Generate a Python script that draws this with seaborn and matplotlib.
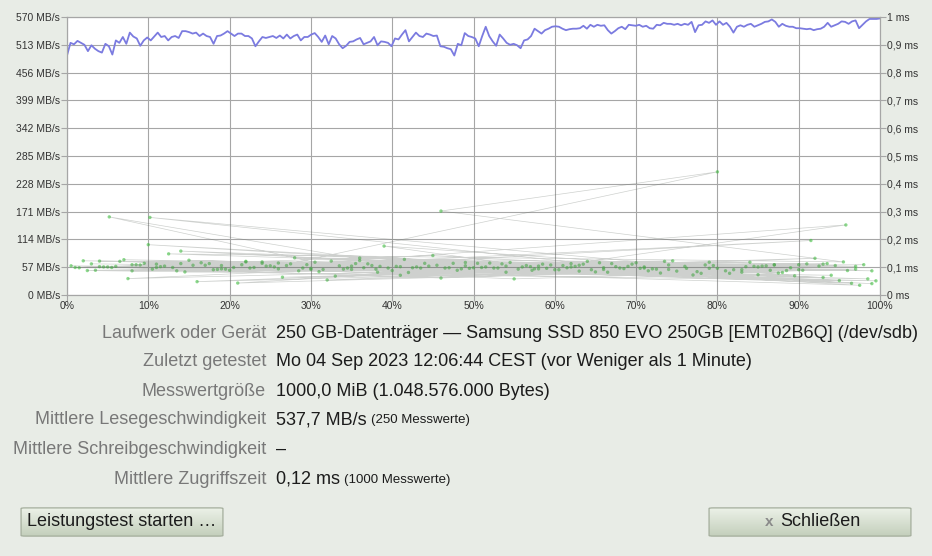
import numpy as np
import matplotlib
matplotlib.use("Agg")
import matplotlib.pyplot as plt
from matplotlib.patches import FancyBboxPatch
import seaborn as sns

# read speed samples (MB/s), evenly spread over the disk
read_mbs = [
    491, 517, 514, 521, 517, 513, 500, 512, 505, 500, 497, 515, 510, 493, 522, 517, 529, 515, 538, 530,
    526, 511, 522, 528, 522, 530, 538, 529, 531, 522, 529, 531, 527, 541, 541, 539, 536, 538, 531, 536,
    531, 529, 515, 531, 532, 536, 541, 536, 531, 536, 536, 531, 531, 526, 510, 520, 529, 527, 529, 531,
    527, 532, 526, 534, 526, 531, 534, 522, 529, 529, 534, 537, 529, 519, 532, 514, 531, 526, 514, 506,
    511, 519, 520,
    524, 527, 514, 517, 520, 529, 512, 520, 519, 517, 510, 526, 524, 534, 543, 520, 529, 538, 531, 529,
    536, 534, 531, 532, 510, 509, 506, 504, 491, 515, 512, 537, 531, 529, 526, 510, 531, 550, 531, 520,
    511, 534, 526, 517, 513, 515, 512, 506, 522, 524, 531, 546, 541, 536, 543, 546, 550, 551, 550, 546,
    543, 545, 546, 546, 547, 552, 546, 554, 550, 554, 552, 553, 543, 536, 541, 547, 550, 545, 554, 553,
    552, 554, 550, 552, 547, 546, 554, 553, 558, 556, 556, 554, 556, 553, 556, 554, 560, 539, 553, 554,
    561, 558, 563, 554, 561, 554, 558, 550, 538, 550, 553, 550, 554, 556, 550, 553, 556, 560, 561, 565,
    560, 550, 556, 552, 550, 550, 547, 547, 546, 545, 546, 543, 545, 546, 550, 558, 550, 553, 556, 561,
    560, 556, 561, 563, 547, 554, 561, 566, 566, 566, 567,
]

# access time samples: position on disk (%) and time (ms), in sample order
acc_pos = [
    3, 47, 81, 22, 65, 12, 90, 38, 56, 7, 73, 29, 95, 44, 18, 61, 84, 33, 51, 2,
    69, 26, 88, 14, 58, 41, 77, 9, 36, 99, 53, 20, 67, 86, 31, 5, 49, 74, 16, 92,
    40, 63, 24, 80, 11, 55, 97, 35, 70, 1, 45, 83, 27, 60, 15, 93, 50, 8, 76, 39,
    57, 19, 87, 32, 71, 4, 48, 94, 25, 62, 13, 79, 42, 98, 30, 66, 10, 54, 85, 37,
    72, 6, 52, 89, 21, 64, 43, 96, 17, 59, 34, 78, 0.5, 46, 91, 28, 68, 11.5, 82, 37.5,
    54.5, 23, 75, 8.5, 62.5, 41.5, 97.5, 31.5, 85.5, 14.5, 50.5, 70.5, 26.5, 90.5, 4.5, 58.5, 36.5, 79.5, 19.5, 66.5,
    44.5, 93.5, 28.5, 7.5, 61.5, 83.5, 16.5, 48.5, 73.5, 34.5, 99.5, 2.5, 56.5, 21.5, 87.5, 40.5, 68.5, 12.5, 95.5, 46,
    80, 25.5, 64.5, 9.5, 52.5, 77.5, 33.5, 91.5, 18.5, 59.5, 5.5, 38.5, 71.5, 96.5, 27.5, 49.5, 86.5, 15.5, 63.5, 42.5,
    5.2, 30.5, 67.5, 10.2, 89.5, 35.5, 57.5, 95.8, 22.5, 74.5,
    1.5, 60.5, 29.5, 84.5, 13.5, 47.5, 71, 38.2, 94.5, 20.5, 55.5, 78.5, 6.5, 43.5, 88.5, 24.5, 65.5, 35, 98.5, 51.5,
    17.5, 76.2, 3.5, 58, 32.5, 90, 45.5, 69.5, 11, 81.5, 26, 53.5, 97, 39.5, 63, 8, 85, 22, 72.5, 49,
    30, 92.5, 14, 66, 41, 87, 4, 57.2, 79, 24, 99, 36, 62, 10.5, 74, 46.5, 83, 19, 54, 93,
]
acc_ms = [
    .112, .098, .087, .121, .083, .104, .109, .093, .101, .127, .079, .097, .052, .114, .091, .106, .118, .068, .099, .123,
    .103, .115, .081, .158, .094, .102, .072, .108, .124, .041, .097, .089, .113, .105, .084, .101, .117, .092, .048, .132,
    .088, .107, .119, .096, .111, .058, .093, .104, .116, .099, .142, .082, .106, .091, .125, .063, .098, .087, .103, .176,
    .102, .094, .108, .054, .097, .122, .089, .071, .105, .113, .099, .118, .081, .109, .096, .092, .181, .104, .073, .112,
    .094, .103, .115, .098, .043, .121, .101, .088, .107, .096, .093, .078, .105, .061, .112, .134, .097, .102, .091, .106,
    .117, .099, .086, .109, .103, .128, .035, .092, .104, .083, .114, .096, .064, .089, .101, .111, .098, .106, .093, .082,
    .104, .113, .087, .059, .098, .102, .116, .094, .121, .097, .051, .088, .106, .109, .079, .103, .095, .148, .119, .302,
    .443, .101, .091, .114, .097, .084, .105, .196, .092, .108, .099, .103, .087, .042, .112, .096, .089, .107, .111, .098,
    .281, .118, .102, .279, .069, .113, .094, .252, .097, .123,
    .098, .091, .109, .103, .087, .114, .101, .082, .106, .099, .093, .108, .121, .097, .088, .104, .116, .092, .058, .101,
    .113, .096, .089, .104, .122, .091, .107, .111, .099, .078, .094, .112, .103, .097, .086, .109, .101, .119, .093, .105,
    .092, .104, .113, .098, .071, .109, .102, .089, .096, .114, .087, .133, .101, .093, .108, .097, .091, .106, .082, .111,
]

mbs_ticks = [0, 57, 114, 171, 228, 285, 342, 399, 456, 513, 570]
ms_ticks = [0, .1, .2, .3, .4, .5, .6, .7, .8, .9, 1.0]
ms_labels = ["0 ms", "0,1 ms", "0,2 ms", "0,3 ms", "0,4 ms", "0,5 ms",
             "0,6 ms", "0,7 ms", "0,8 ms", "0,9 ms", "1 ms"]
pct_ticks = list(range(0, 101, 10))

info_labels = ["Laufwerk oder Gerät", "Zuletzt getestet", "Messwertgröße",
               "Mittlere Lesegeschwindigkeit", "Mittlere Schreibgeschwindigkeit",
               "Mittlere Zugriffszeit"]
info_values = ["250 GB-Datenträger — Samsung SSD 850 EVO 250GB [EMT02B6Q] (/dev/sdb)",
               "Mo 04 Sep 2023 12:06:44 CEST (vor Weniger als 1 Minute)",
               "1000,0 MiB (1.048.576.000 Bytes)",
               "537,7 MB/s", "–", "0,12 ms"]
info_notes = ["", "", "", "(250 Messwerte)", "", "(1000 Messwerte)"]

bg = "#e8ece6"
sns.set_theme(style="white")
plt.rcParams["font.family"] = ["Liberation Sans", "DejaVu Sans"]

W, H = 932, 556
fig = plt.figure(figsize=(W / 100, H / 100), dpi=100, facecolor=bg)
ax = fig.add_axes([67 / W, 1 - 295 / H, 813 / W, 278 / H])
ax.set_facecolor("white")

read_x = np.linspace(0, 100, len(read_mbs))
sns.lineplot(x=read_x, y=read_mbs, ax=ax, color="#7b7be0", lw=1.3, sort=False, estimator=None)

ax.set_xlim(0, 100)
ax.set_ylim(0, 570)
ax.set_xticks(pct_ticks)
ax.set_xticklabels([f"{p}%" for p in pct_ticks])
ax.set_yticks(mbs_ticks)
ax.set_yticklabels([f"{v} MB/s" for v in mbs_ticks])
ax.grid(True, color="#a6a6a6", lw=0.8)
ax.set_axisbelow(True)

ax2 = ax.twinx()
ax2.set_ylim(0, 1)
sns.lineplot(x=acc_pos, y=acc_ms, ax=ax2, color="#5e665e", lw=0.5, alpha=0.3,
             sort=False, estimator=None)
sns.scatterplot(x=acc_pos, y=acc_ms, ax=ax2, color="#3fc23f", s=6, alpha=0.6,
                edgecolor="none")
ax2.set_yticks(ms_ticks)
ax2.set_yticklabels(ms_labels)
ax2.set_xlim(0, 100)

for a in (ax, ax2):
    a.tick_params(length=4, width=0.8, color="#a6a6a6", labelsize=7.5,
                  labelcolor="#333333", pad=1)
    for s in a.spines.values():
        s.set_color("#a6a6a6")
        s.set_linewidth(0.8)
ax.tick_params(axis="y", left=True)
ax2.tick_params(axis="y", right=True)
ax.tick_params(axis="x", bottom=True, pad=0)

# info rows under the chart
row_y = [333, 362, 391, 420, 449, 479]
fig.canvas.draw()
r = fig.canvas.get_renderer()
for lab, val, note, yy in zip(info_labels, info_values, info_notes, row_y):
    fy = 1 - yy / H
    fig.text(266 / W, fy, lab, ha="right", va="center", fontsize=13, color="#787878")
    t = fig.text(276 / W, fy, val, ha="left", va="center", fontsize=13, color="#1c1c1c")
    if note:
        bb = t.get_window_extent(renderer=r)
        fig.text(bb.x1 / W + 4 / W, fy - 0.5 / H, note, ha="left", va="center",
                 fontsize=9.5, color="#1c1c1c")

# buttons
grad = np.linspace(0, 1, 64).reshape(-1, 1)
cmap = matplotlib.colors.LinearSegmentedColormap.from_list("btn", ["#edf2e9", "#c2ceba"])
for x0, text, icon in [(19, "Leistungstest starten …", False), (707, "Schließen", True)]:
    bax = fig.add_axes([x0 / W, 1 - 537 / H, 206 / W, 30 / H])
    bax.set_axis_off()
    im = bax.imshow(grad, aspect="auto", cmap=cmap, extent=(0, 1, 0, 1), origin="upper")
    box = FancyBboxPatch((0.01, 0.03), 0.98, 0.94, boxstyle="round,pad=0,rounding_size=0.02",
                         transform=bax.transAxes, fc="none", ec="#a4ae9c", lw=0.9)
    bax.add_patch(box)
    im.set_clip_path(box)
    bax.set_xlim(0, 1)
    bax.set_ylim(0, 1)
    if icon:
        bax.text(0.30, 0.5, "x", ha="center", va="center", fontsize=11,
                 color="#8a8a8a", fontweight="bold")
        bax.text(0.55, 0.5, text, ha="center", va="center", fontsize=13, color="#1c1c1c")
    else:
        bax.text(0.5, 0.5, text, ha="center", va="center", fontsize=13, color="#1c1c1c")

fig.savefig("out.png", dpi=100, facecolor=bg)
